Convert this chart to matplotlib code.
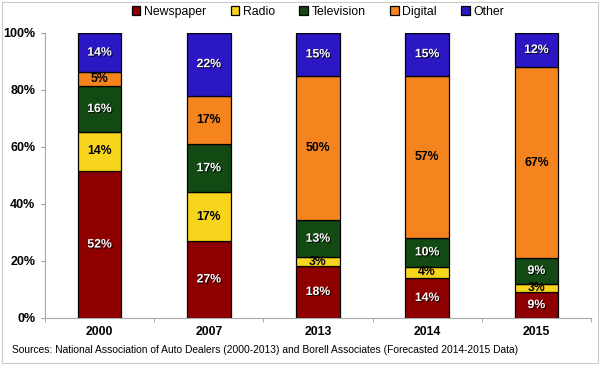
import matplotlib.pyplot as plt
import matplotlib.patheffects as pe
from matplotlib.patches import Rectangle
import numpy as np

plt.rcParams["font.family"] = ["Liberation Sans", "DejaVu Sans"]

years = ["2000", "2007", "2013", "2014", "2015"]
segments = ["Newspaper", "Radio", "Television", "Digital", "Other"]
newspaper = [52, 27, 18, 14, 9]
radio = [14, 17, 3, 4, 3]
television = [16, 17, 13, 10, 9]
digital = [5, 17, 50, 57, 67]
other = [14, 22, 15, 15, 12]
source_note = ("Sources: National Association of Auto Dealers (2000-2013) and "
               "Borell Associates (Forecasted 2014-2015 Data)")

colors = ["#8e0000", "#f7d51d", "#134a13", "#f5841f", "#2b17c4"]
text_colors = ["white", "black", "white", "black", "white"]

series = np.array([newspaper, radio, television, digital, other], dtype=float)
shares = series / series.sum(axis=0) * 100

fig = plt.figure(figsize=(6, 3.65), dpi=100)
ax = fig.add_axes([0.075, 0.129, 0.91, 0.781])

x = np.arange(len(years))
bottom = np.zeros(len(years))
shadow = [pe.SimplePatchShadow(offset=(0.8, -0.8), shadow_rgbFace="black", alpha=0.9), pe.Normal()]
for i, name in enumerate(segments):
    ax.bar(x, shares[i], 0.4, bottom=bottom, color=colors[i], edgecolor="black",
           linewidth=0.9, label=name, zorder=2)
    for j in range(len(years)):
        t = ax.text(x[j], bottom[j] + shares[i][j] / 2, f"{int(series[i][j])}%",
                    ha="center", va="center", fontsize=8.8, fontweight="bold",
                    color=text_colors[i], zorder=3)
        if text_colors[i] == "white":
            t.set_path_effects(shadow)
    bottom += shares[i]

ax.set_xlim(-0.5, len(years) - 0.5)
ax.set_ylim(0, 100)
ax.set_yticks(range(0, 101, 20))
ax.set_yticklabels([f"{v}%" for v in range(0, 101, 20)], fontsize=9, fontweight="bold")
ax.set_xticks(x)
ax.set_xticklabels(years, fontsize=8.8, fontweight="bold")
ax.set_xticks(np.arange(-0.5, len(years)), minor=True)
ax.tick_params(axis="x", which="major", length=0, pad=6)
ax.tick_params(axis="x", which="minor", length=3, color="#999999", direction="out")
ax.tick_params(axis="y", length=3, color="#999999", direction="out", pad=4)
for side in ["top", "right"]:
    ax.spines[side].set_visible(False)
for side in ["left", "bottom"]:
    ax.spines[side].set_color("#aaaaaa")
    ax.spines[side].set_linewidth(0.8)

ax.legend(loc="center", bbox_to_anchor=(0.53, 0.967), bbox_transform=fig.transFigure,
          ncol=5, frameon=False, fontsize=8.8, handlelength=0.7, handleheight=0.7,
          handletextpad=0.3, columnspacing=2.0, borderaxespad=0)

fig.text(0.02, 0.04, source_note, fontsize=7.4, ha="left", va="center")
fig.patches.append(Rectangle((0.004, 0.006), 0.992, 0.988, transform=fig.transFigure,
                             fill=False, edgecolor="#cccccc", linewidth=0.8))

fig.savefig("out.png", dpi=100)
